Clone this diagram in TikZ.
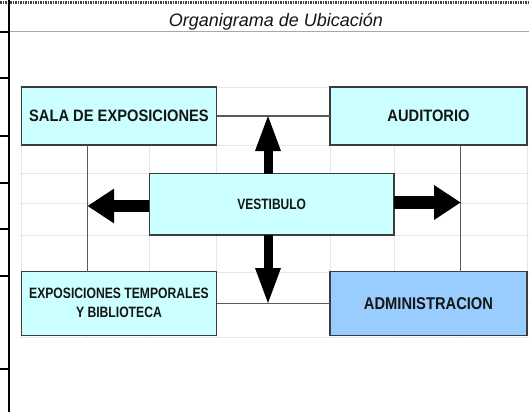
\documentclass[tikz,border=0pt]{standalone}
\usepackage{fontspec}
\setmainfont{Liberation Sans}
\usepackage{graphicx}
\usetikzlibrary{arrows.meta}
\definecolor{boxcyan}{HTML}{CCFFFF}
\definecolor{boxblue}{HTML}{99CCFF}
\definecolor{gridgray}{HTML}{E6E6E6}
\definecolor{linegray}{HTML}{5A5A5A}
\definecolor{bordergray}{HTML}{3C3C3C}
\definecolor{rulegray}{HTML}{A8A8A8}
\definecolor{txt}{HTML}{151515}
\begin{document}
\begin{tikzpicture}[x=1pt,y=-1pt,
  roombox/.style={draw=bordergray, line width=1.4pt, fill=boxcyan, inner sep=0pt, outer sep=0pt, align=center, text=txt},
  adminbox/.style={roombox, fill=boxblue},
  link/.style={draw=linegray, line width=1.4pt},
  gridline/.style={draw=gridgray, line width=0.9pt},
  vbarrow/.style={draw=black, line width=9pt, -{Triangle[width=26pt,length=35pt,line width=0pt]}},
  hbarrow/.style={draw=black, line width=12.5pt, -{Triangle[width=35pt,length=26.5pt,line width=0pt]}},
  tick/.style={draw=black, line width=1.3pt}
]
\useasboundingbox (0,0) rectangle (529,412);
% spreadsheet grid
\foreach \y in {87,116,145,173.7,203.4,235.4,272,303,337}
  \draw[gridline] (20,\y) -- (529,\y);
\foreach \x in {21.3,87.7,149.4,216.6,330,394.7,460.5,527}
  \draw[gridline] (\x,87) -- (\x,337);
% sheet frame
\draw[draw=black!75, line width=2.2pt, dash pattern=on 1.5pt off 1pt] (0,2.5) -- (529,2.5);
\draw[draw=rulegray, line width=1pt] (10,32) -- (529,32);
\draw[draw=black, line width=2.4pt] (9,0) -- (9,412);
\foreach \y in {32,78,136,183,229,276,369}
  \draw[tick] (0,\y) -- (9,\y);
% title
\node[font=\itshape\fontsize{18}{20}\selectfont, anchor=base, text=txt, inner sep=0pt] (title) at (276,27) {Organigrama de Ubicación};
% boxes
\node[roombox, minimum width=195.3pt, minimum height=58pt] (sala) at (118.95,116)
  {\scalebox{0.89}[1]{\bfseries\fontsize{16.5}{19}\selectfont SALA DE EXPOSICIONES}};
\node[roombox, minimum width=197pt, minimum height=58pt] (aud) at (428.5,116)
  {\scalebox{0.89}[1]{\bfseries\fontsize{16.5}{19}\selectfont AUDITORIO}};
\node[roombox, minimum width=244.6pt, minimum height=61.3pt] (vest) at (271.7,204.35)
  {\scalebox{0.80}[1]{\bfseries\fontsize{15}{18}\selectfont VESTIBULO}};
\node[roombox, minimum width=195.3pt, minimum height=64pt] (expo) at (118.95,303.7)
  {\scalebox{0.81}[1]{\bfseries\fontsize{15}{19}\selectfont\begin{tabular}{@{}c@{}}EXPOSICIONES TEMPORALES\\ Y BIBLIOTECA\end{tabular}}};
\node[adminbox, minimum width=197pt, minimum height=64pt] (admin) at (428.5,303.7)
  {\scalebox{0.865}[1]{\bfseries\fontsize{17}{19}\selectfont ADMINISTRACION}};
% helper coordinates
\coordinate (cl) at (87.7,0);
\coordinate (cr) at (460.5,0);
\coordinate (tU) at (268,116);
\coordinate (tD) at (268,303);
\coordinate (tL) at (87.7,206);
\coordinate (tR) at (460.5,202.5);
% connector lines
\draw[link] (sala.east) -- (aud.west);
\draw[link] (expo.east) -- (admin.west);
\draw[link] (sala.south -| cl) -- (expo.north -| cl);
\draw[link] (aud.south -| cr) -- (admin.north -| cr);
% block arrows
\draw[vbarrow] (vest.north -| tU) -- (tU);
\draw[vbarrow] (vest.south -| tD) -- (tD);
\draw[hbarrow] (vest.west |- tL) -- (tL);
\draw[hbarrow] (vest.east |- tR) -- (tR);
\end{tikzpicture}
\end{document}
